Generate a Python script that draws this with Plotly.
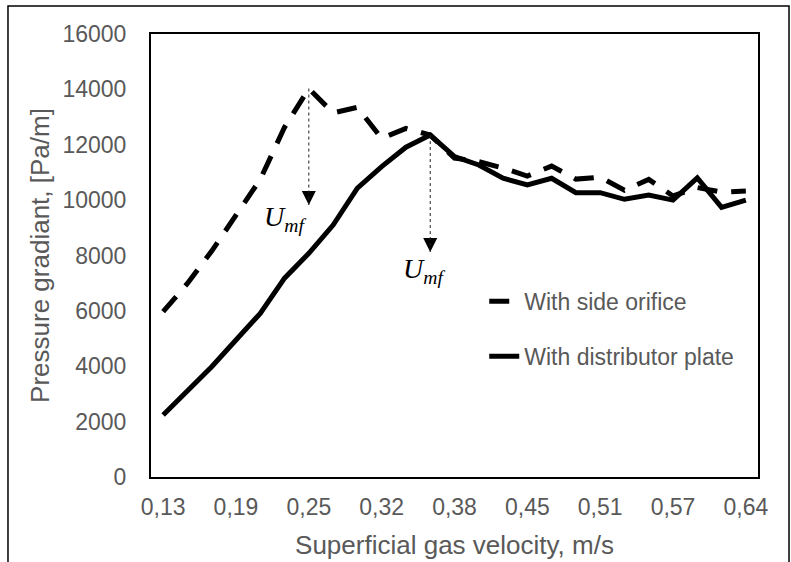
import plotly.graph_objects as go

# ---- data ----
velocity = ["0,13", "0,15", "0,17", "0,19", "0,21", "0,23", "0,25", "0,28", "0,30",
            "0,32", "0,34", "0,36", "0,38", "0,40", "0,43", "0,45", "0,47", "0,49",
            "0,51", "0,53", "0,55", "0,57", "0,60", "0,62", "0,64"]
side_orifice = [5970, 6990, 8160, 9420, 10750, 12630, 14030, 13150, 13350, 12230,
                12590, 12350, 11520, 11390, 11160, 10870, 11230, 10760, 10830, 10360,
                10750, 10150, 10455, 10290, 10330]
distributor_plate = [2240, 3080, 3980, 4950, 5910, 7180, 8080, 9100, 10430, 11210,
                     11910, 12350, 11570, 11270, 10790, 10550, 10790, 10270, 10270, 10030,
                     10180, 10000, 10800, 9740, 10000]
x_tick_labels = velocity[::3]
y_ticks = list(range(0, 16001, 2000))
y_tick_labels = [str(v) for v in y_ticks]

# Umf marks: (series, index of the peak)
umf_series = [side_orifice, distributor_plate]
umf_index = [6, 11]
umf_tip = [9823, 8126]
umf_label_y = [9350, 7450]
umf_label_shift = [-24, -6]

GRAY = "#595959"
FONT = "Liberation Sans, Arial, sans-serif"

fig = go.Figure()
fig.add_trace(go.Scatter(
    x=velocity, y=side_orifice, mode="lines", name="With side orifice",
    line=dict(color="black", width=5, dash="20px,14px"), legendgroup="a"))
fig.add_trace(go.Scatter(
    x=velocity, y=distributor_plate, mode="lines", name="With distributor plate",
    line=dict(color="black", width=5), legendgroup="b"))

for s, i, tip, ly, sh in zip(umf_series, umf_index, umf_tip, umf_label_y, umf_label_shift):
    fig.add_shape(type="line", xref="x", yref="y", x0=velocity[i], x1=velocity[i],
                  y0=s[i], y1=tip, line=dict(color="#222", width=1, dash="dot"))
    fig.add_trace(go.Scatter(x=[velocity[i]], y=[tip], mode="markers", showlegend=False,
                             hoverinfo="skip",
                             marker=dict(symbol="arrow-down", size=14, color="black")))
    fig.add_annotation(x=velocity[i], y=ly, xref="x", yref="y", showarrow=False,
                       xshift=sh, text="<i>U</i><sub><i>mf</i></sub>",
                       font=dict(family="Liberation Serif, DejaVu Serif, serif", size=28,
                                 color="black"))

# outer frame
fig.add_shape(type="rect", xref="paper", yref="paper",
              x0=-0.2356, x1=1.0511, y0=-0.30, y1=1.0632,
              line=dict(color="black", width=1.5), fillcolor="rgba(0,0,0,0)", layer="below")

fig.update_layout(
    width=791, height=562,
    margin=dict(l=151, r=33, t=34, b=85, autoexpand=False),
    plot_bgcolor="white", paper_bgcolor="white",
    font=dict(family=FONT, color=GRAY, size=23),
    showlegend=True,
    legend=dict(x=0.549, xanchor="left", y=0.445, yanchor="top",
                bgcolor="rgba(0,0,0,0)", font=dict(size=23, color=GRAY),
                traceorder="grouped", tracegroupgap=22),
    xaxis=dict(type="category", categoryorder="array", categoryarray=velocity,
               range=[-0.5, len(velocity) - 0.5], automargin=False,
               tickmode="array", tickvals=x_tick_labels, ticktext=x_tick_labels,
               showline=True, linecolor="black", linewidth=2, mirror=True,
               showgrid=False, ticks="", zeroline=False, ticklabelstandoff=8,
               tickfont=dict(size=23, color=GRAY),
               title=dict(text="Superficial gas velocity, m/s", font=dict(size=26, color=GRAY),
                          standoff=17)),
    yaxis=dict(range=[0, 16000], tickmode="array", tickvals=y_ticks, ticktext=y_tick_labels,
               automargin=False,
               showline=True, linecolor="black", linewidth=2, mirror=True,
               showgrid=False, ticks="", zeroline=False, ticklabelstandoff=18,
               tickfont=dict(size=23, color=GRAY),
               title=dict(text="Pressure gradiant, [Pa/m]", font=dict(size=26, color=GRAY),
                          standoff=5)),
)

fig.write_html("out.html")
